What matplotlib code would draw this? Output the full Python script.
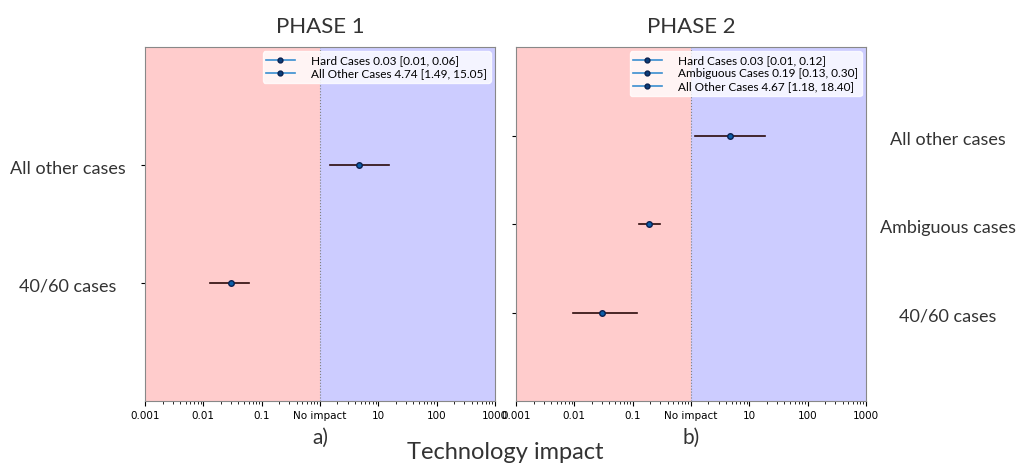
import matplotlib.pyplot as plt
from matplotlib.lines import Line2D

# phase 1 : 40/60 (hard) cases and all other cases
p1_cases = ["40/60 cases", "All other cases"]
p1_legend = ["Hard Cases", "All Other Cases"]
p1_est = [0.03, 4.74]
p1_low = [0.013, 1.49]
p1_high = [0.06, 15.05]

# phase 2 : hard, ambiguous, all other
p2_cases = ["40/60 cases", "Ambiguous cases", "All other cases"]
p2_legend = ["Hard Cases", "Ambiguous Cases", "All Other Cases"]
p2_est = [0.03, 0.19, 4.67]
p2_low = [0.0095, 0.13, 1.18]
p2_high = [0.12, 0.30, 18.40]

xticks = [0.001, 0.01, 0.1, 1, 10, 100, 1000]
xticklabels = ["0.001", "0.01", "0.1", "No impact", "10", "100", "1000"]

label_font = ["Lato", "DejaVu Sans"]
txt = dict(family=label_font, color="#333333")


def forest(ax, est, low, high, names, title, sub):
    ypos = list(range(len(est)))
    ax.axvspan(0.001, 1, color="red", alpha=0.2, lw=0)
    ax.axvspan(1, 1000, color="blue", alpha=0.2, lw=0)
    ax.axvline(1, color="gray", lw=0.8, ls=":")
    for y, e, lo, hi in zip(ypos, est, low, high):
        ax.plot([lo, hi], [y, y], color="#2b0a0a", lw=1.2, zorder=3)
        ax.plot(e, y, "o", color="#0b5ea8", mec="#0a2150", ms=4, zorder=4)
    ax.set_xscale("log")
    ax.set_xlim(0.001, 1000)
    ax.set_ylim(-1, len(est))
    ax.set_xticks(xticks)
    ax.set_xticklabels(xticklabels, fontsize=7.5)
    ax.set_yticks(ypos)
    ax.tick_params(axis="y", length=3)
    for s in ax.spines.values():
        s.set_color("#888888")
    handles = [Line2D([0], [0], color="#3a8fd0", marker="o", mfc="#0a3d7a",
                      mec="#0a2150", ms=3.5, lw=1.2) for _ in names]
    labels = ["%s %.2f [%.2f, %.2f]" % (n, e, lo, hi)
              for n, e, lo, hi in zip(names, est, low, high)]
    ax.legend(handles, labels, loc="upper right",
              prop=dict(family=label_font, size=8.5),
              frameon=True, framealpha=0.8, edgecolor="white",
              borderpad=0.3, labelspacing=0.2, handlelength=2.4,
              handletextpad=1.4, borderaxespad=0.35)
    ax.set_title(title, fontsize=16, pad=10, **txt)
    ax.text(0.5, -0.105, sub, transform=ax.transAxes, ha="center",
            va="center", fontsize=15, **txt)


fig = plt.figure(figsize=(10.23, 4.67), dpi=100)
ax1 = fig.add_axes([0.1417, 0.1413, 0.342, 0.758])
ax2 = fig.add_axes([0.5044, 0.1413, 0.342, 0.758])

forest(ax1, p1_est, p1_low, p1_high, p1_legend, "PHASE 1", "a)")
forest(ax2, p2_est, p2_low, p2_high, p2_legend, "PHASE 2", "b)")

ax1.set_yticklabels([])
ax2.set_yticklabels([])
for i, name in enumerate(p1_cases):
    ax1.text(-0.22, i - 0.03, name, transform=ax1.get_yaxis_transform(),
             ha="center", va="center", fontsize=13, **txt)
for i, name in enumerate(p2_cases):
    ax2.text(1.234, i - 0.05, name, transform=ax2.get_yaxis_transform(),
             ha="center", va="center", fontsize=13, **txt)

fig.text(0.494, 0.03, "Technology impact", ha="center", va="center",
         fontsize=17, **txt)

fig.savefig("out.png", dpi=100)
